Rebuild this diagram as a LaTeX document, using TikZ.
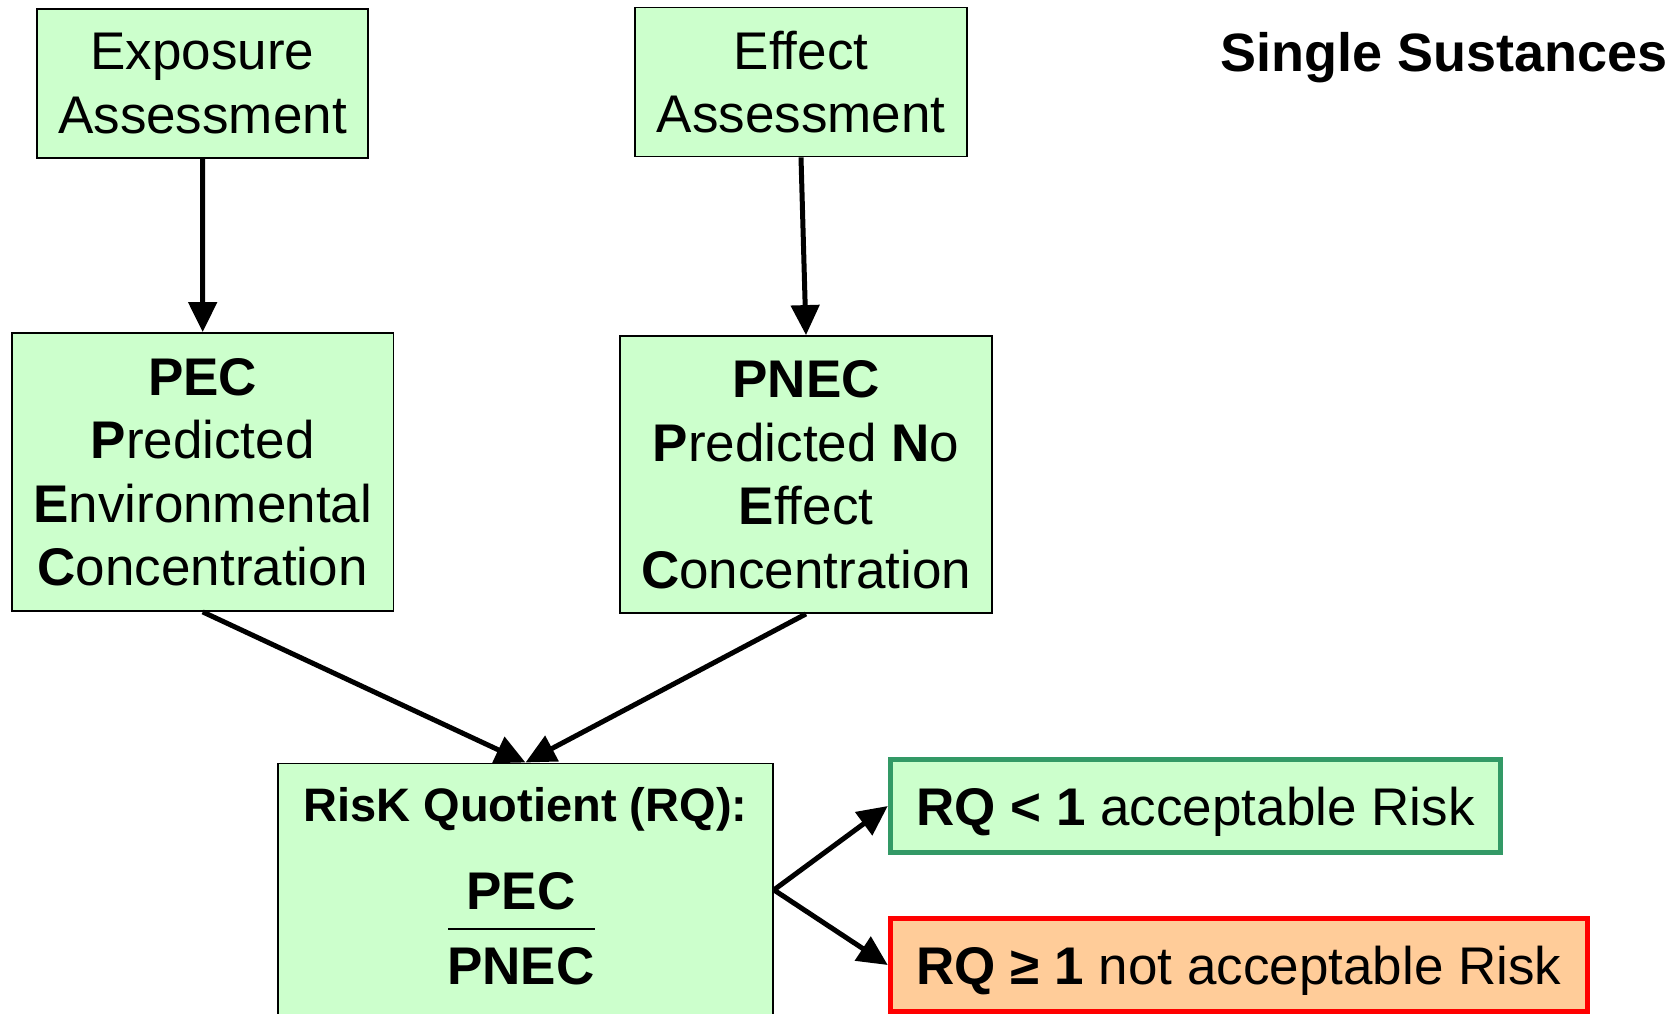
\documentclass[tikz,border=0pt]{standalone}
\usepackage{fontspec}
\setmainfont{Liberation Sans}
\usetikzlibrary{arrows.meta}

\definecolor{paleGreen}{HTML}{CCFFCC}
\definecolor{edgeGreen}{HTML}{339966}
\definecolor{paleOrange}{HTML}{FFCC99}
\definecolor{edgeRed}{HTML}{FF0000}

\tikzset{
  stage/.style={draw=black, line width=1.8pt, fill=paleGreen, inner sep=0pt,
    align=center, font=\fontsize{53}{63.5}\selectfont},
  flow/.style={line width=5pt, -{Triangle[length=30pt,width=28pt]}},
  verdict/.style={line width=5.5pt, inner sep=0pt, minimum height=93pt,
    text height=38pt, text depth=0pt, font=\fontsize{53}{60}\selectfont},
  boldtext/.style={font=\bfseries\fontsize{#1}{#1}\selectfont, inner sep=0pt, anchor=base},
}

\begin{document}
\begin{tikzpicture}[x=1pt, y=-1pt]
  \useasboundingbox (0,0) rectangle (1677,1013);

  % input assessments
  \node[stage, minimum width=331pt, minimum height=149pt] (expo) at (202.5,83.5)
    {Exposure\\Assessment};
  \node[stage, minimum width=332pt, minimum height=149pt] (effect) at (801,82)
    {Effect\\Assessment};

  % derived concentrations
  \node[stage, minimum width=381.5pt, minimum height=278pt] (pec) at (202.7,472)
    {\textbf{PEC}\\\textbf{P}redicted\\\textbf{E}nvironmental\\\textbf{C}oncentration};
  \node[stage, minimum width=372pt, minimum height=277pt] (pnec) at (806,474.5)
    {\textbf{PNEC}\\\textbf{P}redicted \textbf{N}o\\\textbf{E}ffect\\\textbf{C}oncentration};

  % risk quotient box (runs past the lower edge)
  \node[stage, minimum width=495pt, minimum height=253pt, anchor=north] (rq) at (525.5,762.5) {};
  \node[boldtext=47] (rqtitle) at (525.5,821) {RisK Quotient (RQ):};
  \node[boldtext=53] (num) at (521,909) {PEC};
  \node[fill=black, inner sep=0pt, minimum width=147pt, minimum height=2pt] (bar) at (521,929) {};
  \node[boldtext=53] (den) at (521,984) {PNEC};

  % outcomes
  \node[verdict, draw=edgeGreen, fill=paleGreen, minimum width=610pt] (ok) at (1195.5,806)
    {\textbf{RQ < 1} acceptable Risk};
  \node[verdict, draw=edgeRed, fill=paleOrange, minimum width=697pt] (bad) at (1239,965)
    {\textbf{RQ ≥ 1} not acceptable Risk};

  % heading
  \node[boldtext=54] (heading) at (1444,71) {Single Sustances};

  % connectors
  \draw[flow] (expo.south) -- (pec.north);
  \draw[flow] (effect.south) -- (pnec.north);
  \draw[flow] (pec.south) -- (rq.north);
  \draw[flow] (pnec.south) -- (rq.north);
  \draw[flow] (rq.east) -- (ok.west);
  \draw[flow] (rq.east) -- (bad.west);
\end{tikzpicture}
\end{document}
